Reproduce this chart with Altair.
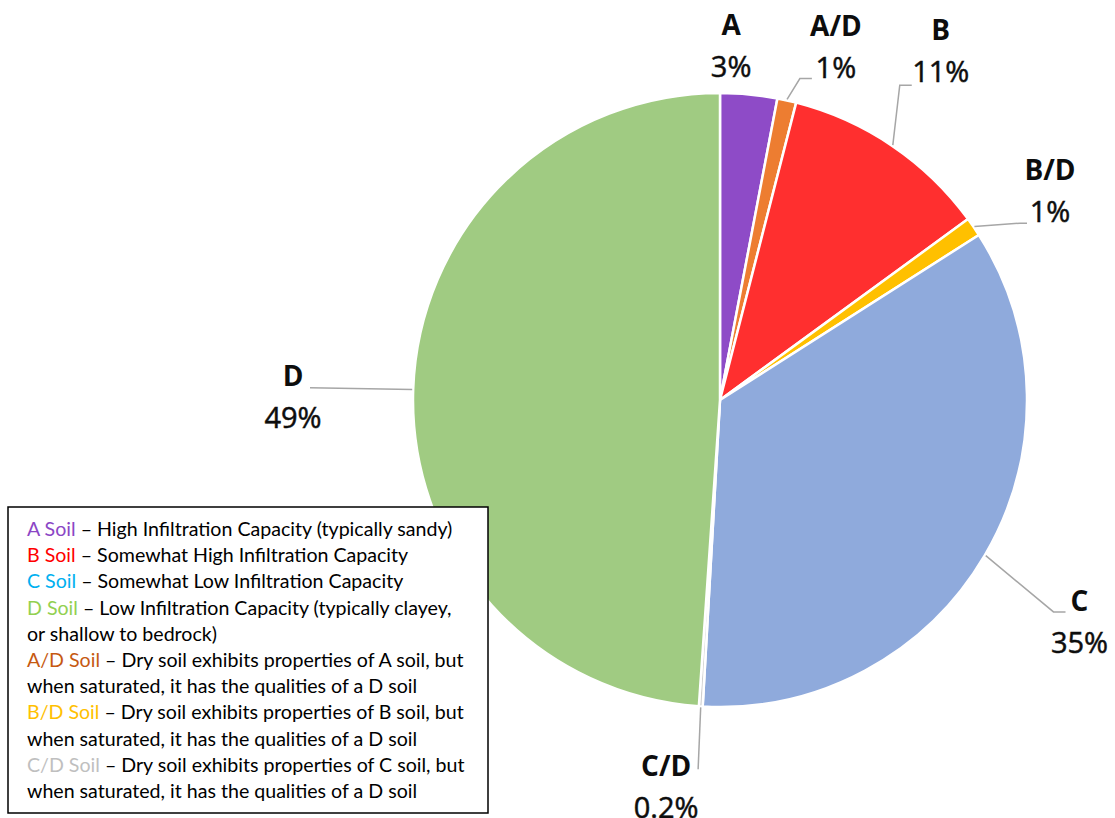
import math
import altair as alt
import pandas as pd

# Hydrologic soil group shares (percent), clockwise from 12 o'clock
groups = ["A", "A/D", "B", "B/D", "C", "C/D", "D"]
shares = [3, 1, 11, 1, 35, 0.2, 49]
slice_colors = ["#8E4BC7", "#ED7D31", "#FF2F2F", "#FFC000", "#8FAADC", "#CFCFCF", "#A0CB82"]

# Legend text: coloured prefix + description
legend_prefix = ["A Soil", "B Soil", "C Soil", "D Soil", "", "A/D Soil", "", "B/D Soil", "", "C/D Soil", ""]
legend_rest = [
    " \u2013 High Infiltration Capacity (typically sandy)",
    " \u2013 Somewhat High Infiltration Capacity",
    " \u2013 Somewhat Low Infiltration Capacity",
    " \u2013 Low Infiltration Capacity (typically clayey,",
    "or shallow to bedrock)",
    " \u2013 Dry soil exhibits properties of A soil, but",
    "when saturated, it has the qualities of a D soil",
    " \u2013 Dry soil exhibits properties of B soil, but",
    "when saturated, it has the qualities of a D soil",
    " \u2013 Dry soil exhibits properties of C soil, but",
    "when saturated, it has the qualities of a D soil",
]
legend_colors = ["#8B46C5", "#FF0000", "#00B0F0", "#92D050", "#000000",
                 "#C65911", "#000000", "#FFC000", "#000000", "#BFBFBF", "#000000"]

# ---- layout ----
W, H = 1115, 818
CX, CY, R = 720, 400, 307
FONT = "Open Sans"

# label block placement: (angle deg clockwise from top, distance from centre)
label_pos = {
    "A": (1.8, 353), "A/D": (18.2, 371), "B": (32.4, 412), "B/D": (57.8, 390),
    "C": (121.8, 423), "C/D": (187.9, 392), "D": (270.3, 427),
}
# leader elbow / end offsets relative to the label block centre
leader_off = {
    "A/D": [(-36, 31), (-24, 31)],
    "B": [(-41, 33), (-29, 33)],
    "B/D": [(-30, 31), (-23, 31)],
    "C": [(-26, -11), (-14, -11)],
    "C/D": [(32, -19), (32, -19)],
    "D": [(17, -10), (17, -10)],
}


def polar(angle_deg, dist):
    a = math.radians(angle_deg)
    return CX + dist * math.sin(a), CY - dist * math.cos(a)


pie = pd.DataFrame({"group": groups, "share": shares, "color": slice_colors,
                    "order": list(range(len(groups)))})
total = sum(shares)
cum = 0.0
mids = []
for v in shares:
    mids.append((cum + v / 2) / total * 360)
    cum += v
pie["mid"] = mids

labels = []
leaders = []
for g, v, m in zip(groups, shares, mids):
    ang, dist = label_pos[g]
    bx, by = polar(ang, dist)
    labels.append({"group": g, "pct": f"{v:g}%", "x": bx, "y_name": by - 20, "y_pct": by + 21})
    if g in leader_off:
        sx, sy = polar(m, R + 1)
        pts = [(sx, sy)] + [(bx + dx, by + dy) for dx, dy in leader_off[g]]
        for i, (px, py) in enumerate(pts):
            leaders.append({"group": g, "seq": i, "x": px, "y": py})
labels = pd.DataFrame(labels)
leaders = pd.DataFrame(leaders)

arcs = alt.Chart(pie).mark_arc(outerRadius=R, stroke="white", strokeWidth=2.5).encode(
    theta=alt.Theta("share:Q", stack=True),
    order=alt.Order("order:Q"),
    color=alt.Color("color:N", scale=None),
    x=alt.value(CX),
    y=alt.value(CY),
)

leader_lines = alt.Chart(leaders).mark_line(color="#A6A6A6", strokeWidth=1.5).encode(
    x=alt.X("x:Q", scale=None),
    y=alt.Y("y:Q", scale=None),
    detail="group:N",
    order="seq:Q",
)

name_text = alt.Chart(labels).mark_text(
    font=FONT, fontSize=28, fontWeight="bold", align="center", baseline="middle", color="#0D0D0D"
).encode(x=alt.X("x:Q", scale=None), y=alt.Y("y_name:Q", scale=None), text="group:N")

pct_text = alt.Chart(labels).mark_text(
    font=FONT, fontSize=29, align="center", baseline="middle", color="#0D0D0D",
    stroke="#0D0D0D", strokeWidth=0.5
).encode(x=alt.X("x:Q", scale=None), y=alt.Y("y_pct:Q", scale=None), text="pct:N")

# legend box
box = alt.Chart(pd.DataFrame({"x": [8], "x2": [488], "y": [507], "y2": [813]})).mark_rect(
    fill="white", stroke="black", strokeWidth=1.5
).encode(
    x=alt.X("x:Q", scale=None), x2="x2:Q",
    y=alt.Y("y:Q", scale=None), y2="y2:Q",
)

LX, LY0, LDY = 27, 530, 26.2
leg = pd.DataFrame({
    "full": [p + r for p, r in zip(legend_prefix, legend_rest)],
    "prefix": legend_prefix,
    "color": legend_colors,
    "x": [LX] * len(legend_rest),
    "y": [LY0 + i * LDY for i in range(len(legend_rest))],
})
LFONT, LFS = "Lato", 19.6
leg_base = alt.Chart(leg).encode(x=alt.X("x:Q", scale=None), y=alt.Y("y:Q", scale=None))
leg_full = leg_base.mark_text(font=LFONT, fontSize=LFS, align="left", baseline="middle",
                              color="black").encode(text="full:N")
# blank out the prefix of the black line, then redraw it in its group colour
leg_erase = leg_base.mark_text(font=LFONT, fontSize=LFS, align="left", baseline="middle",
                               color="white", stroke="white", strokeWidth=2).encode(text="prefix:N")
leg_prefix = leg_base.mark_text(font=LFONT, fontSize=LFS, align="left", baseline="middle").encode(
    text="prefix:N", color=alt.Color("color:N", scale=None))

chart = alt.layer(
    arcs, leader_lines, name_text, pct_text, box, leg_full, leg_erase, leg_prefix
).properties(
    width=W, height=H, autosize=alt.AutoSizeParams(type="none"), padding=0
).configure_view(stroke=None)

chart.save("out.html", embed_options={"renderer": "svg", "actions": False})
